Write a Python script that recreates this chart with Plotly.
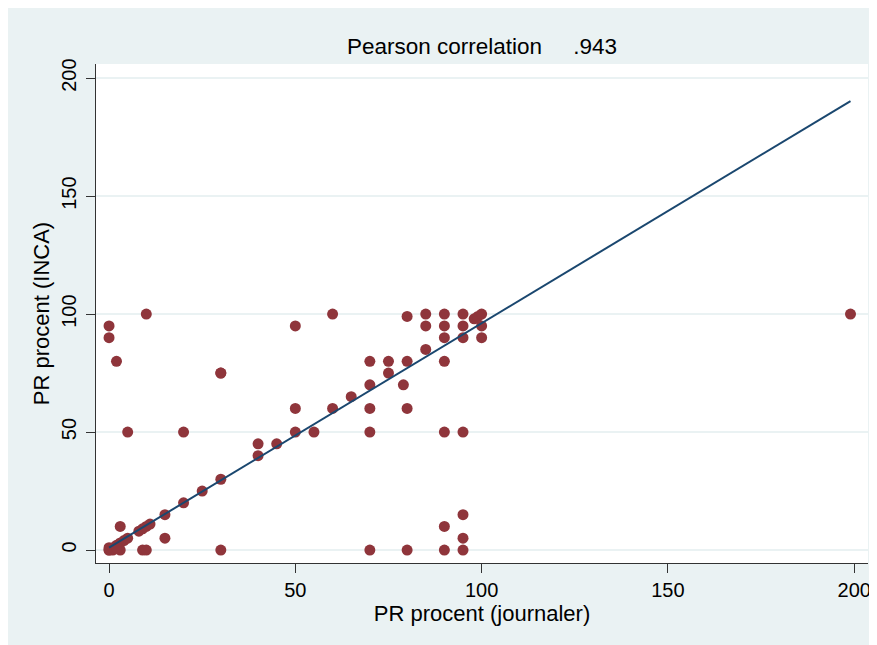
"""
Scatter of PR procent, journaler vs INCA, with fitted line (Stata-like look).
"""

import plotly.graph_objects as go

# data
journaler = [0, 0, 2, 10, 5, 20, 30, 30, 50, 60,
             0, 0, 1, 0, 1, 2, 3, 4, 5, 3, 2,
             3, 8, 9, 10, 11, 9, 10, 15, 15, 20, 25, 30, 30,
             40, 40, 45, 50, 50, 55, 60, 65, 70, 70, 70, 70, 70,
             75, 75, 79, 80, 80, 80, 80,
             85, 85, 85, 90, 90, 90, 90, 90, 90, 90,
             95, 95, 95, 95, 95, 95, 95,
             98, 99, 100, 100, 100, 199]
inca = [95, 90, 80, 100, 50, 50, 75, 75, 95, 100,
        0, 0, 0, 1, 1, 2, 3, 4, 5, 0, 1,
        10, 8, 9, 10, 11, 0, 0, 5, 15, 20, 25, 30, 0,
        40, 45, 45, 50, 60, 50, 60, 65, 70, 80, 60, 50, 0,
        75, 80, 70, 80, 99, 60, 0,
        85, 95, 100, 90, 95, 100, 80, 50, 10, 0,
        95, 100, 90, 50, 15, 5, 0,
        98, 99, 100, 95, 90, 100]

fit_x = [0, 199]
fit_y = [1.0, 190.3]

x_ticks = [0, 50, 100, 150, 200]
y_ticks = [0, 50, 100, 150, 200]

title = "Pearson correlation" + "\u00a0" * 4 + " .943"
x_title = "PR procent (journaler)"
y_title = "PR procent (INCA)"

BG = "#EAF2F3"
FONT = "Liberation Sans, Arial, sans-serif"

fig = go.Figure()
fig.add_trace(go.Scatter(x=journaler, y=inca, mode="markers",
                         marker=dict(color="#8F353B", size=11, line=dict(width=0)),
                         showlegend=False))
fig.add_trace(go.Scatter(x=fit_x, y=fit_y, mode="lines",
                         line=dict(color="#1A476F", width=2),
                         showlegend=False))

fig.update_xaxes(range=[-3.5, 203.7], tickvals=x_ticks, ticks="outside",
                 ticklen=9, tickwidth=1.3, tickcolor="#333333",
                 showline=True, linecolor="#333333", linewidth=1.3,
                 showgrid=False, zeroline=False,
                 tickfont=dict(size=20, color="black"),
                 title=dict(text=x_title, font=dict(size=22, color="black"), standoff=3))
fig.update_yaxes(range=[-5.5, 206], tickvals=y_ticks, ticks="outside",
                 ticklen=9, tickwidth=1.3, tickcolor="#333333",
                 showline=True, linecolor="#333333", linewidth=1.3,
                 showgrid=True, gridcolor=BG, gridwidth=2, zeroline=False,
                 tickangle=-90, ticklabelstandoff=2,
                 tickfont=dict(size=20, color="black"),
                 title=dict(text=y_title, font=dict(size=22, color="black"), standoff=2))

# the page itself adds an 8px white border at left/top
fig.update_layout(width=867, height=637,
                  margin=dict(l=88, r=7, t=56, b=82, autoexpand=False),
                  paper_bgcolor=BG, plot_bgcolor="white",
                  font=dict(family=FONT, color="black"),
                  title=dict(text=title, x=0.5, xref="paper", y=1 - 38 / 637,
                             yref="container", yanchor="middle", xanchor="center",
                             font=dict(size=22.5, color="black")))

fig.write_html("out.html")
